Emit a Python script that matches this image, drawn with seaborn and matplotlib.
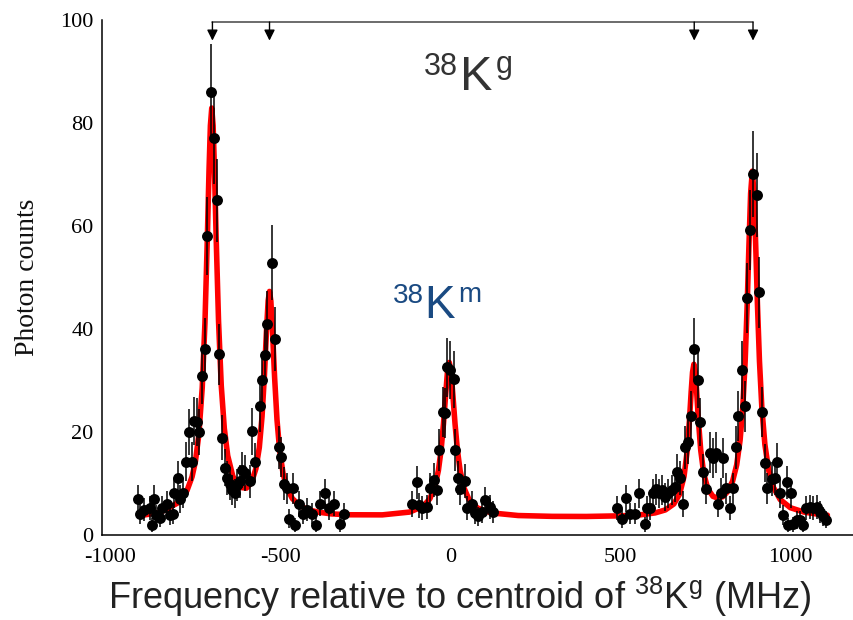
import numpy as np
import pandas as pd
import matplotlib
matplotlib.use("Agg")
import matplotlib.pyplot as plt
import seaborn as sns

# ---------------- data ----------------
freq = [-919, -914, -902, -884, -879, -871, -865, -853, -848, -835, -824, -816, -812, -802,
        -794, -786, -779, -768, -760, -755, -745, -740, -730, -723, -716, -704, -696, -688,
        -681, -671, -664, -657, -647, -642, -635, -627, -618, -613, -603, -590, -585, -574,
        -561, -554, -546, -539, -524, -515, -505, -498, -490, -480, -474, -464, -456, -446,
        -433, -422, -407, -394, -384, -368, -358, -343, -326, -314,
        -113, -98, -93, -83, -69, -61, -49, -39, -34, -22, -15, -10, 0, 10, 15, 22, 29, 44,
        49, 64, 74, 83, 93, 103, 116, 127,
        490, 505, 518, 529, 544, 554, 572, 578, 588, 596, 606, 613, 623, 632, 642, 652, 662,
        667, 676, 684, 691, 699, 709, 718, 728, 735, 743, 753, 763, 773, 781, 789, 796, 804,
        812, 824, 833, 841, 848, 858, 868, 874, 882, 892, 902, 910, 917, 926, 933, 946, 956,
        963, 971, 979, 990, 995, 1002, 1008, 1020, 1029, 1039, 1047, 1059, 1069, 1078, 1088,
        1098, 1106]
counts = [7.0, 4.1, 4.9, 5.2, 1.9, 7.0, 3.9, 3.3, 5.2, 6.0, 3.9, 4.1, 8.2, 11.1,
          7.0, 8.2, 14.2, 20.0, 14.2, 22.1, 22.0, 20.0, 30.9, 36.1, 58.1, 86.1, 77.0, 65.0,
          35.1, 18.9, 13.1, 11.0, 10.0, 8.7, 8.1, 9.7, 10.4, 12.6, 12.0, 10.4, 20.1, 14.1,
          25.0, 30.1, 35.0, 41.0, 52.9, 38.1, 17.0, 15.1, 10.0, 9.1, 3.2, 9.1, 1.9, 6.0,
          4.1, 4.9, 4.1, 1.9, 6.1, 8.1, 5.2, 6.1, 2.1, 4.1,
          6.0, 10.2, 5.8, 5.2, 5.5, 9.1, 10.7, 8.7, 16.5, 23.9, 23.6, 32.6, 32.0, 30.2, 16.5,
          11.0, 8.9, 10.5, 5.2, 6.0, 4.2, 3.6, 4.5, 6.7, 5.5, 4.5,
          5.2, 3.2, 7.1, 4.1, 4.1, 8.1, 2.1, 5.2, 5.2, 8.1, 8.9, 8.1, 8.7, 7.4, 8.1, 8.7, 9.4,
          12.2, 11.0, 6.0, 17.0, 18.1, 23.1, 36.1, 30.1, 22.0, 12.2, 9.0, 16.0, 15.0, 16.0,
          6.0, 8.2, 15.0, 9.1, 5.2, 9.1, 17.0, 23.1, 32.0, 25.0, 46.1, 59.2, 70.1, 66.0, 47.1,
          23.9, 14.0, 9.1, 10.8, 11.0, 14.1, 8.1, 3.9, 10.2, 1.9, 8.1, 2.1, 2.9, 2.9, 1.9,
          5.2, 5.5, 5.2, 5.5, 4.5, 3.6, 3.0]
# statistical (Poisson) uncertainty shown by the bars
errors = list(np.sqrt(counts))

# fitted curve
fit_x = [-900, -890, -850, -800, -775, -760, -750, -740, -730, -722, -715, -710, -706, -702,
         -698, -694, -689, -682, -674, -665, -655, -640, -620, -600, -585, -572, -562, -554,
         -547, -541, -536, -532, -528, -523, -517, -510, -502, -492, -480, -465, -445, -420,
         -390, -350, -300, -200, -120, -80, -60, -45, -35, -27, -20, -14, -8, -3, 2, 8, 14,
         21, 29, 40, 55, 80, 120, 200, 300, 400, 500, 560, 603, 633, 658, 675, 688, 697, 704,
         709, 713, 717, 721, 725, 730, 737, 746, 758, 773, 788, 802, 816, 831, 843, 853, 861,
         868, 874, 879, 884, 889, 894, 899, 904, 910, 917, 926, 937, 951, 971, 1001, 1041,
         1081, 1110]
fit_y = [3.9, 4.0, 4.5, 6.3, 8.6, 11.3, 14.3, 19.5, 28.6, 41.2, 57.6, 70.9, 79.5, 82.9,
         79.5, 71.0, 57.7, 41.5, 29.0, 20.7, 15.4, 11.4, 9.25, 9.1, 10.2, 12.9, 17.0, 23.0,
         31.0, 39.5, 45.5, 47.3, 45.4, 39.3, 30.6, 22.4, 16.3, 11.9, 9.0, 7.1, 5.8, 4.95,
         4.45, 4.1, 3.93, 3.91, 4.45, 5.55, 7.05, 9.5, 12.5, 16.5, 21.6, 26.9, 31.9, 33.5,
         31.9, 26.9, 21.6, 16.5, 12.5, 9.2, 6.9, 5.25, 4.3, 3.78, 3.62, 3.6, 3.72, 3.92, 4.29,
         4.87, 6.03, 7.96, 11.37, 16.17, 22.35, 27.83, 31.6, 33.16, 31.68, 27.98, 22.59,
         16.53, 11.92, 8.96, 7.51, 7.14, 7.44, 8.42, 10.47, 13.63, 18.4, 24.9, 33.9, 44.98,
         56.2, 66.35, 70.65, 66.3, 56.1, 44.9, 33.75, 24.7, 17.55, 12.6, 9.25, 6.88, 5.3,
         4.45, 4.05, 3.85]

# hyperfine component positions marked at the top
arrow_x = [-700, -532, 718, 891]
xticks = [-1000, -500, 0, 500, 1000]
yticks = [0, 20, 40, 60, 80, 100]

# ---------------- figure ----------------
sns.set_theme(style="white")
plt.rcParams["font.family"] = ["Liberation Serif", "DejaVu Sans"]
plt.rcParams["mathtext.fontset"] = "custom"
plt.rcParams["mathtext.rm"] = "Liberation Sans"
plt.rcParams["mathtext.it"] = "Liberation Sans:italic"

W, H = 854, 620
fig = plt.figure(figsize=(W / 100, H / 100), dpi=100)
ax = fig.add_axes([102 / W, 1 - 535 / H, (858 - 102) / W, (535 - 20) / H])

df_fit = pd.DataFrame({"x": fit_x, "y": fit_y})
df_pts = pd.DataFrame({"x": freq, "y": counts, "e": errors})

sns.lineplot(data=df_fit, x="x", y="y", ax=ax, color="#ff0000", lw=4.0,
             sort=False, zorder=2, solid_capstyle="round")
ax.errorbar(df_pts["x"], df_pts["y"], yerr=df_pts["e"], fmt="none",
            ecolor="black", elinewidth=1.1, capsize=0, zorder=3)
sns.scatterplot(data=df_pts, x="x", y="y", ax=ax, color="black", s=62,
                edgecolor="black", linewidth=0, zorder=4)

ax.set_xlim(-1025, 1200)
ax.set_ylim(0, 100)
ax.set_xticks(xticks)
ax.set_xticklabels([str(t) for t in xticks])
ax.set_yticks(yticks)
ax.set_xticks(np.arange(-1000, 1201, 100), minor=True)
ax.set_yticks(np.arange(0, 101, 5), minor=True)
ax.tick_params(axis="both", which="both", direction="in", colors="black",
               labelsize=16, width=1.0)
ax.tick_params(axis="y", which="major", length=16.5)
ax.tick_params(axis="y", which="minor", length=8.5)
ax.tick_params(axis="x", which="major", length=11.5)
ax.tick_params(axis="x", which="minor", length=6)
ax.tick_params(axis="x", pad=9)
ax.tick_params(axis="y", pad=6)
for lab in ax.get_xticklabels() + ax.get_yticklabels():
    lab.set_family("Liberation Serif")

for s in ["top", "right"]:
    ax.spines[s].set_visible(False)
for s in ["left", "bottom"]:
    ax.spines[s].set_color("black")
    ax.spines[s].set_linewidth(1.1)

ax.set_ylabel("Photon counts", fontsize=20, family="Liberation Serif", color="#111111")
ax.yaxis.set_label_coords(-0.082, 0.50)
ax.set_xlabel(r"Frequency relative to centroid of $^{38}$K$^{\mathrm{g}}$ (MHz)",
              fontsize=26, family="Liberation Sans", color="#222222")
ax.xaxis.set_label_coords(0.4735, -0.077)
ax.xaxis.label.set_va("top")

# bracket with arrows at top
ax.plot([arrow_x[0], arrow_x[-1]], [99.6, 99.6], color="#444444", lw=1.1,
        clip_on=False, zorder=5)
for xa in arrow_x:
    ax.annotate("", xy=(xa, 96.0), xytext=(xa, 99.6),
                arrowprops=dict(arrowstyle="-|>", color="black", lw=1.0,
                                mutation_scale=16, shrinkA=0, shrinkB=0),
                annotation_clip=False, zorder=5)

# isotope labels
def ftxt(px, py, s, size, color, ha="left"):
    fig.text(px / W, 1 - py / H, s, fontsize=size, color=color, ha=ha,
             va="baseline", family="Liberation Sans")

ftxt(458, 75, "38", 22, "#333333", ha="right")
ftxt(460, 90, "K", 35, "#333333")
ftxt(496, 73, "g", 22, "#333333")

blue = "#1a4a82"
ftxt(424, 303, "38", 20, blue, ha="right")
ftxt(424, 318, "K", 33, blue)
ftxt(458, 302, "m", 20, blue)

fig.savefig("out.png", dpi=100)
